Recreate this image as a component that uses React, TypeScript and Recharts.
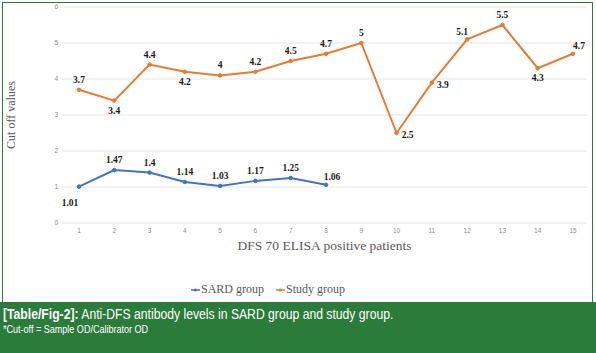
import React from 'react';
import { LineChart, Line, XAxis, YAxis, CartesianGrid, Legend } from 'recharts';

const patients = ['1', '2', '3', '4', '5', '6', '7', '8', '9', '10', '11', '12', '13', '14', '15'];
const sardValues = [1.01, 1.47, 1.4, 1.14, 1.03, 1.17, 1.25, 1.06];
const sardLabels = ['1.01', '1.47', '1.4', '1.14', '1.03', '1.17', '1.25', '1.06'];
const studyValues = [3.7, 3.4, 4.4, 4.2, 4.1, 4.2, 4.5, 4.7, 5, 2.5, 3.9, 5.1, 5.5, 4.3, 4.7];
const studyLabels = ['3.7', '3.4', '4.4', '4.2', '4', '4.2', '4.5', '4.7', '5', '2.5', '3.9', '5.1', '5.5', '4.3', '4.7'];
const yTicks = [0, 1, 2, 3, 4, 5, 6];

const sardPlacement = ['belowLeft', 'above', 'above', 'above', 'above', 'above', 'above', 'aboveRight'];
const studyPlacement = ['above', 'below', 'above', 'below', 'above', 'above', 'above', 'above', 'above', 'right', 'right', 'aboveLeft', 'above', 'below', 'aboveRight'];

const BLUE = '#4472C4';
const ORANGE = '#E57C33';
const GREEN = '#2B7B3B';
const SERIF = '"Liberation Serif", "Times New Roman", serif';

const data = patients.map((p, i) => ({
  patient: p,
  sard: i < sardValues.length ? sardValues[i] : null,
  study: studyValues[i],
}));

const OFFSETS: Record<string, [number, number]> = {
  above: [0, -10],
  below: [0, 10],
  right: [11, 2],
  belowLeft: [-9, 16],
  aboveRight: [6, -8],
  aboveLeft: [-5, -7],
};

const makeLabel = (labels: string[], placement: string[]) => (props: any) => {
  const { x, y, index, value } = props;
  if (value === null || value === undefined || x == null || y == null) return null;
  const [dx, dy] = OFFSETS[placement[index]] || [0, -10];
  return (
    <text
      key={`l-${index}`}
      x={x + dx}
      y={y + dy}
      textAnchor="middle"
      dominantBaseline="central"
      fontFamily={SERIF}
      fontWeight="bold"
      fontSize={9.5}
      fill="#1a1a1a"
    >
      {labels[index]}
    </text>
  );
};

const LegendContent = () => (
  <div style={{ display: 'flex', justifyContent: 'center', alignItems: 'center', fontFamily: SERIF, fontSize: 12, color: '#595959' }}>
    {[
      { name: 'SARD group', color: BLUE },
      { name: 'Study group', color: ORANGE },
    ].map((it, i) => (
      <div key={it.name} style={{ display: 'flex', alignItems: 'center', marginLeft: i ? 12 : 0 }}>
        <svg width={9} height={6} style={{ marginRight: 1 }}>
          <line x1={0} y1={3} x2={9} y2={3} stroke={it.color} strokeWidth={1.5} />
          <circle cx={4.5} cy={3} r={1.5} fill={it.color} />
        </svg>
        <span>{it.name}</span>
      </div>
    ))}
  </div>
);

const CAPTION_FONT = '"Liberation Sans", Arial, sans-serif';

export default function App() {
  return (
    <div style={{ position: 'absolute', left: 0, top: 0, width: 596, height: 353, background: '#fff', overflow: 'hidden' }}>
      <div
        style={{
          position: 'absolute',
          left: 2,
          top: 2,
          width: 591,
          height: 310,
          boxSizing: 'border-box',
          border: `1.5px solid ${GREEN}`,
        }}
      />
      <div style={{ position: 'absolute', left: 0, top: 0 }}>
        <LineChart width={596} height={302} data={data} margin={{ top: 7, right: 9, bottom: 0, left: 0 }}>
          <CartesianGrid vertical={false} stroke="#e4e4e4" strokeWidth={1} />
          <XAxis
            dataKey="patient"
            axisLine={false}
            tickLine={false}
            tickSize={0}
            tickMargin={5}
            height={59}
            padding={{ left: 17, right: 14 }}
            tick={{ fontSize: 6.5, fill: '#8c8c8c', fontFamily: CAPTION_FONT }}
            interval={0}
            label={{
              value: 'DFS 70 ELISA positive patients',
              position: 'insideBottom',
              offset: 32,
              style: { fontFamily: SERIF, fontSize: 13.5, fill: '#595959', textAnchor: 'middle' },
            }}
          />
          <YAxis
            domain={[0, 6]}
            ticks={yTicks}
            axisLine={false}
            tickLine={false}
            tickSize={0}
            tickMargin={4}
            width={62}
            tick={{ fontSize: 6.5, fill: '#8c8c8c', fontFamily: CAPTION_FONT }}
            label={{
              value: 'Cut off values',
              angle: -90,
              position: 'insideLeft',
              offset: 11,
              style: { fontFamily: SERIF, fontSize: 12, fill: '#595959', textAnchor: 'middle' },
            }}
          />
          <Legend verticalAlign="bottom" height={20} content={<LegendContent />} wrapperStyle={{ left: 168, width: 200 }} />
          <Line
            type="linear"
            dataKey="sard"
            name="SARD group"
            stroke={BLUE}
            strokeWidth={2}
            dot={{ r: 1.8, fill: BLUE, stroke: BLUE, strokeWidth: 1 }}
            isAnimationActive={false}
            label={makeLabel(sardLabels, sardPlacement)}
          />
          <Line
            type="linear"
            dataKey="study"
            name="Study group"
            stroke={ORANGE}
            strokeWidth={2}
            dot={{ r: 1.8, fill: ORANGE, stroke: ORANGE, strokeWidth: 1 }}
            isAnimationActive={false}
            label={makeLabel(studyLabels, studyPlacement)}
          />
        </LineChart>
      </div>
      <div
        style={{
          position: 'absolute',
          left: 0,
          top: 302,
          width: 596,
          height: 51,
          background: GREEN,
          color: '#fff',
          fontFamily: CAPTION_FONT,
          paddingLeft: 3,
          boxSizing: 'border-box',
        }}
      >
        <div style={{ fontSize: 14, lineHeight: '16px', paddingTop: 4, whiteSpace: 'nowrap', transform: 'scaleX(0.87)', transformOrigin: 'left' }}>
          <b>[Table/Fig-2]:</b> Anti-DFS antibody levels in SARD group and study group.
        </div>
        <div style={{ fontSize: 10.5, lineHeight: '13px', marginTop: 1, whiteSpace: 'nowrap', transform: 'scaleX(0.86)', transformOrigin: 'left' }}>
          *Cut-off = Sample OD/Calibrator OD
        </div>
      </div>
    </div>
  );
}
